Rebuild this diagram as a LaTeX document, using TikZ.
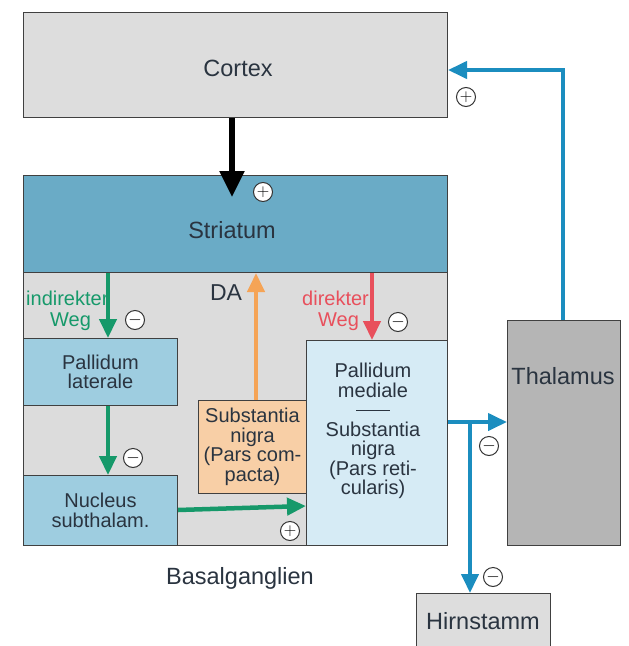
\documentclass[tikz,border=0pt]{standalone}
\usepackage{fontspec}
\setmainfont{Liberation Sans}
\usetikzlibrary{arrows.meta,calc}
\definecolor{txt}{HTML}{2A3440}
\definecolor{cortexfill}{HTML}{DDDDDD}
\definecolor{strfill}{HTML}{6AABC6}
\definecolor{bgfill}{HTML}{DCDCDC}
\definecolor{boxblue}{HTML}{9ECDE0}
\definecolor{lightblue}{HTML}{D6EBF5}
\definecolor{snfill}{HTML}{F8CFA6}
\definecolor{thalfill}{HTML}{B5B5B5}
\definecolor{linegreen}{HTML}{16996A}
\definecolor{lineblue}{HTML}{1B8DBF}
\definecolor{linered}{HTML}{E8505C}
\definecolor{lineorange}{HTML}{F5A456}
\tikzset{
  box/.style={draw=black!75,line width=1pt,anchor=north west,inner sep=0pt,text=txt,align=center,font=\fontsize{20}{19.5}\selectfont},
  lbl/.style={text=txt,align=center,font=\fontsize{20}{19.5}\selectfont,inner sep=0pt},
  big/.style={lbl,font=\fontsize{23.5}{26}\selectfont},
  sign/.style={circle,draw=black!80,line width=1pt,fill=white,minimum size=19pt,inner sep=0pt,font=\fontsize{16}{16}\selectfont},
  conn/.style={line width=4.5pt,-{Triangle[length=19pt,width=17pt]}},
}
\begin{document}
\begin{tikzpicture}[x=1pt,y=-1pt]
\useasboundingbox[fill=white] (0,0) rectangle (629,646);
% boxes
\node[box,fill=cortexfill,minimum width=424pt,minimum height=105pt] (cortex) at (23,12) {};
\node[big] (cortexT) at (238,68) {Cortex};
\node[box,fill=bgfill,minimum width=424pt,minimum height=370pt] (bg) at (23,175) {};
\node[box,fill=strfill,minimum width=424pt,minimum height=97pt] (str) at (23,175) {};
\node[big] (strT) at (232,230) {Striatum};
\node[box,fill=boxblue,minimum width=154pt,minimum height=67pt] (pl) at (23,338) {Pallidum\\laterale};
\node[box,fill=boxblue,minimum width=154pt,minimum height=70pt] (nst) at (23,475) {Nucleus\\subthalam.};
\node[box,fill=snfill,minimum width=108pt,minimum height=93pt] (snc) at (198,400) {Substantia\\nigra\\(Pars com-\\pacta)};
\node[box,fill=lightblue,minimum width=141pt,minimum height=205pt] (pm) at (306,340) {};
\node[lbl] (pmT) at (373,431) {Pallidum\\mediale\\[0pt]\rule[0.5ex]{34pt}{1.2pt}\\[0pt]Substantia\\nigra\\(Pars reti-\\cularis)};
\node[box,fill=thalfill,minimum width=113pt,minimum height=225pt] (thal) at (507,320) {};
\node[big] (thalT) at (563,376) {Thalamus};
\node[box,fill=cortexfill,minimum width=134pt,minimum height=55pt] (hirn) at (416,593) {};
\node[big] (hirnT) at (483,621) {Hirnstamm};
\node[big] (bgT) at (240,578) {Basalganglien};
% labels
\node[lbl,text=linegreen,anchor=base west] (indT1) at (26,305) {indirekter};
\node[lbl,text=linegreen,anchor=base west] (indT2) at (50,326) {Weg};
\node[lbl,text=linered,anchor=base west] (dirT1) at (302,305) {direkter};
\node[lbl,text=linered,anchor=base west] (dirT2) at (318,326) {Weg};
\node[big,font=\fontsize{23}{26}\selectfont] (daT) at (226,293) {DA};
% coordinates
\coordinate (branch) at (470,422);
\coordinate (corner) at (563,70);
% connectors
\draw[line width=5.5pt,black,-{Triangle[length=26pt,width=24pt]}] (cortex.south -| strT) -- ($(str.north -| strT)+(0,22)$);
\draw[conn,linegreen] (str.south -| 108,0) -- (pl.north -| 108,0);
\draw[conn,linegreen] (pl.south -| 108,0) -- (nst.north -| 108,0);
\draw[conn,linegreen] (nst.east |- 0,510) -- (pm.west |- 0,506);
\draw[conn,lineorange] (snc.north -| 256,0) -- (str.south -| 256,0);
\draw[conn,linered] (str.south -| 372,0) -- (pm.north -| 372,0);
\draw[conn,lineblue,line width=4pt] (thal.north -| corner) -- (corner) -- (cortex.east |- corner);
\draw[line width=4pt,lineblue] (pm.east |- branch) -- (branch);
\draw[conn,lineblue,line width=4pt] (branch) -- (thal.west |- branch);
\draw[conn,lineblue,line width=4pt] (branch) -- (hirn.north -| branch);
% signs
\node[sign] (s1) at (263,192) {$+$};
\node[sign] (s2) at (466,97) {$+$};
\node[sign] (s3) at (135,320) {$-$};
\node[sign] (s4) at (133,458) {$-$};
\node[sign] (s5) at (290,531) {$+$};
\node[sign] (s6) at (398,322) {$-$};
\node[sign] (s7) at (489,446) {$-$};
\node[sign] (s8) at (493,577) {$-$};
\end{tikzpicture}
\end{document}
